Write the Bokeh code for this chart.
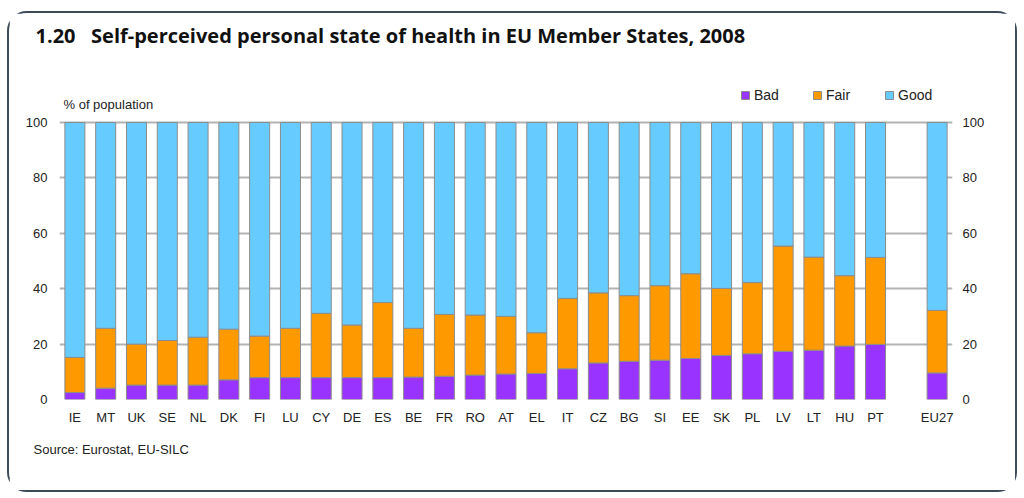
from bokeh.plotting import figure
from bokeh.models import (ColumnDataSource, FactorRange, LinearAxis, Label, Legend,
                          LegendItem, FixedTicker, Title, Range1d)
from bokeh.embed import file_html
from bokeh.resources import INLINE

# ---- data ----
countries = ["IE", "MT", "UK", "SE", "NL", "DK", "FI", "LU", "CY", "DE", "ES", "BE", "FR", "RO",
             "AT", "EL", "IT", "CZ", "BG", "SI", "EE", "SK", "PL", "LV", "LT", "HU", "PT", "EU27"]
bad = [2.5, 4.1, 5.2, 5.2, 5.2, 7.1, 7.9, 7.9, 7.9, 7.9, 7.9, 8.1, 8.4, 8.8,
       9.2, 9.4, 11.1, 13.2, 13.8, 14.2, 14.8, 15.9, 16.5, 17.4, 17.8, 19.3, 19.9, 9.6]
fair = [12.7, 21.6, 14.8, 16.1, 17.3, 18.3, 15.0, 17.8, 23.2, 19.0, 27.1, 17.6, 22.3, 21.7,
        20.8, 14.7, 25.4, 25.3, 23.7, 26.9, 30.6, 24.2, 25.7, 38.0, 33.6, 25.4, 31.4, 22.6]
good = [84.8, 74.3, 80.0, 78.7, 77.5, 74.6, 77.1, 74.3, 68.9, 73.1, 65.0, 74.3, 69.3, 69.5,
        70.0, 75.9, 63.5, 61.5, 62.5, 58.9, 54.6, 59.9, 57.8, 44.6, 48.6, 55.3, 48.7, 67.8]
series = ["Bad", "Fair", "Good"]
colors = ["#9933FF", "#FF9900", "#66CCFF"]
y_ticks = [0, 20, 40, 60, 80, 100]

title_text = "1.20\u00a0\u00a0\u00a0Self-perceived personal state of health in EU Member States, 2008"
y_label = "% of population"
source_note = "Source: Eurostat, EU-SILC"

FONT = "Liberation Sans"
TXT = "#222222"

# ---- geometry (pixels) ----
W, H = 1010, 481
B_LEFT, B_RIGHT, B_TOP, B_BOTTOM = 50, 67, 40, 95
frame_h = H - B_TOP - B_BOTTOM          # px
px_per_100 = 277                         # height of 0..100 on the axis
y_top = 100 * frame_h / px_per_100       # room above 100 for the legend

source = ColumnDataSource(dict(country=countries, Bad=bad, Fair=fair, Good=good))
factors = countries[:-1] + [" "] + countries[-1:]

p = figure(x_range=FactorRange(*factors, range_padding=0.0),
           y_range=Range1d(0, y_top), width=W, height=H,
           output_backend="svg", toolbar_location=None,
           min_border_left=B_LEFT, min_border_right=B_RIGHT,
           min_border_top=B_TOP, min_border_bottom=B_BOTTOM)
p.styles = {"border": "2px solid #3d4a58", "border-radius": "20px",
            "margin-left": "7px", "margin-top": "11px"}
p.outline_line_color = None
p.background_fill_color = "white"
p.border_fill_color = "white"

renderers = p.vbar_stack(series, x="country", width=0.65, color=colors,
                         line_color="#8c8c8c", line_width=1, source=source)

# grid
p.xgrid.grid_line_color = None
p.ygrid.grid_line_color = "#b3b3b3"
p.ygrid.grid_line_width = 2
p.ygrid.ticker = FixedTicker(ticks=y_ticks)
p.ygrid.level = "underlay"

# axes
def style_axis(ax, standoff):
    ax.axis_line_color = None
    ax.major_tick_line_color = None
    ax.minor_tick_line_color = None
    ax.major_tick_out = 0
    ax.major_tick_in = 0
    ax.minor_tick_out = 0
    ax.major_label_standoff = standoff
    ax.major_label_text_font = FONT
    ax.major_label_text_font_size = "13px"
    ax.major_label_text_color = TXT

p.yaxis.ticker = FixedTicker(ticks=y_ticks)
style_axis(p.yaxis[0], 12)
right = LinearAxis(ticker=FixedTicker(ticks=y_ticks))
style_axis(right, 10)
p.add_layout(right, "right")
style_axis(p.xaxis[0], 10)

# title (above) and source note (below)
p.title = Title(text=title_text, align="left", offset=-24, standoff=10,
                text_font="Open Sans", text_font_style="bold", text_font_size="20px",
                text_color="#111111")
p.add_layout(Title(text=source_note, align="left", offset=-26, standoff=25,
                   text_font=FONT, text_font_style="normal", text_font_size="13px",
                   text_color=TXT), "below")

# legend (inside the frame, above the 100 line)
legend = Legend(items=[LegendItem(label=s, renderers=[r]) for s, r in zip(series, renderers)],
                location=(681, 296), orientation="horizontal",
                glyph_width=10, glyph_height=10, label_standoff=4, label_width=58,
                label_height=10, spacing=0, padding=0, margin=0,
                border_line_color=None, background_fill_alpha=0,
                label_text_font=FONT, label_text_font_size="14px", label_text_color=TXT)
p.add_layout(legend, "center")

p.add_layout(Label(x=4, y=295, x_units="screen", y_units="screen", text=y_label,
                   text_font=FONT, text_font_size="13px", text_color=TXT,
                   text_baseline="alphabetic"))

open("out.html", "w").write(file_html(p, INLINE))
